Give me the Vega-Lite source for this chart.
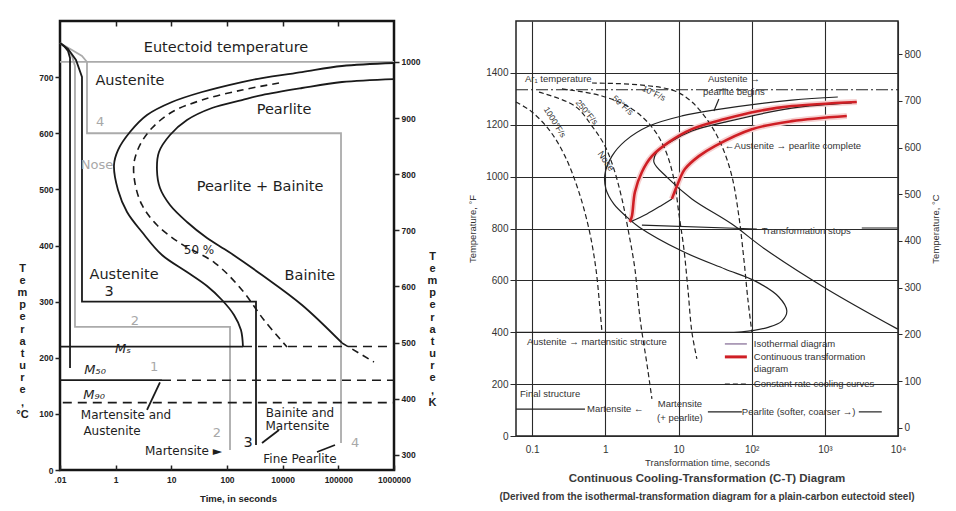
{
  "$schema": "https://vega.github.io/schema/vega-lite/v6.json",
  "padding": {"left": 14, "top": 17, "right": 4, "bottom": 4},
  "background": "white",
  "bounds": "flush",
  "spacing": 122,
  "config": {"font": "Liberation Sans", "axis": {"labelFont": "Liberation Sans", "titleFont": "Liberation Sans"}},
  "datasets": {
    "ttt_gray": [
      {"g": "eut", "o": 1, "x": 0, "T": 727}, {"g": "eut", "o": 2, "x": 6, "T": 727},
      {"g": "p2", "o": 1, "x": 0, "T": 760.8}, {"g": "p2", "o": 2, "x": 0.108, "T": 751.9}, {"g": "p2", "o": 3, "x": 0.216, "T": 737.6}, {"g": "p2", "o": 4, "x": 0.269, "T": 719.8}, {"g": "p2", "o": 5, "x": 0.269, "T": 255}, {"g": "p2", "o": 6, "x": 3.054, "T": 255}, {"g": "p2", "o": 7, "x": 3.054, "T": 35.6},
      {"g": "p4", "o": 1, "x": 0, "T": 760.8}, {"g": "p4", "o": 2, "x": 0.216, "T": 748.3}, {"g": "p4", "o": 3, "x": 0.395, "T": 737.6}, {"g": "p4", "o": 4, "x": 0.485, "T": 727}, {"g": "p4", "o": 5, "x": 0.485, "T": 600}, {"g": "p4", "o": 6, "x": 5.048, "T": 600}, {"g": "p4", "o": 7, "x": 5.048, "T": 48.1}
    ],
    "ttt_black": [
      {"g": "p1", "o": 1, "x": 0, "T": 760.8}, {"g": "p1", "o": 2, "x": 0.072, "T": 755.4}, {"g": "p1", "o": 3, "x": 0.144, "T": 746.5}, {"g": "p1", "o": 4, "x": 0.18, "T": 734.1}, {"g": "p1", "o": 5, "x": 0.18, "T": 181.7},
      {"g": "p3", "o": 1, "x": 0, "T": 760.8}, {"g": "p3", "o": 2, "x": 0.144, "T": 750.1}, {"g": "p3", "o": 3, "x": 0.287, "T": 730.5}, {"g": "p3", "o": 4, "x": 0.395, "T": 700.2}, {"g": "p3", "o": 5, "x": 0.395, "T": 300}, {"g": "p3", "o": 6, "x": 3.521, "T": 300}, {"g": "p3", "o": 7, "x": 3.521, "T": 44.5},
      {"g": "ms", "o": 1, "x": 0, "T": 220}, {"g": "ms", "o": 2, "x": 3.287, "T": 220},
      {"g": "m50", "o": 1, "x": 0, "T": 160}, {"g": "m50", "o": 2, "x": 1.832, "T": 160},
      {"g": "a1", "o": 1, "x": 1.563, "T": 107}, {"g": "a1", "o": 2, "x": 1.796, "T": 156},
      {"g": "a2", "o": 1, "x": 3.934, "T": 71.3}, {"g": "a2", "o": 2, "x": 3.629, "T": 48.1},
      {"g": "a3", "o": 1, "x": 4.617, "T": 32.1}, {"g": "a3", "o": 2, "x": 4.94, "T": 44.5}
    ],
    "ttt_curves": [
      {"g": "start", "o": 1, "x": 6.0, "T": 725.2}, {"g": "start", "o": 2, "x": 5.066, "T": 719.8}, {"g": "start", "o": 3, "x": 4.347, "T": 709.1}, {"g": "start", "o": 4, "x": 3.629, "T": 698.4}, {"g": "start", "o": 5, "x": 3.269, "T": 691.3}, {"g": "start", "o": 6, "x": 2.551, "T": 673.5}, {"g": "start", "o": 7, "x": 2.012, "T": 655.7}, {"g": "start", "o": 8, "x": 1.563, "T": 632.5}, {"g": "start", "o": 9, "x": 1.257, "T": 602.2}, {"g": "start", "o": 10, "x": 1.042, "T": 570.1}, {"g": "start", "o": 11, "x": 0.97, "T": 543.4}, {"g": "start", "o": 12, "x": 1.042, "T": 498.9}, {"g": "start", "o": 13, "x": 1.204, "T": 459.7}, {"g": "start", "o": 14, "x": 1.473, "T": 424.0}, {"g": "start", "o": 15, "x": 1.832, "T": 383.1}, {"g": "start", "o": 16, "x": 2.281, "T": 352.8}, {"g": "start", "o": 17, "x": 2.641, "T": 327.8}, {"g": "start", "o": 18, "x": 2.91, "T": 302.9}, {"g": "start", "o": 19, "x": 3.126, "T": 276.2}, {"g": "start", "o": 20, "x": 3.251, "T": 249.4}, {"g": "start", "o": 21, "x": 3.287, "T": 219.1},
      {"g": "fin", "o": 1, "x": 6.0, "T": 696.6}, {"g": "fin", "o": 2, "x": 5.066, "T": 691.3}, {"g": "fin", "o": 3, "x": 4.347, "T": 680.6}, {"g": "fin", "o": 4, "x": 3.629, "T": 668.1}, {"g": "fin", "o": 5, "x": 3.269, "T": 659.2}, {"g": "fin", "o": 6, "x": 2.73, "T": 645.0}, {"g": "fin", "o": 7, "x": 2.281, "T": 623.6}, {"g": "fin", "o": 8, "x": 1.976, "T": 596.9}, {"g": "fin", "o": 9, "x": 1.778, "T": 566.6}, {"g": "fin", "o": 10, "x": 1.742, "T": 534.5}, {"g": "fin", "o": 11, "x": 1.796, "T": 502.4}, {"g": "fin", "o": 12, "x": 1.976, "T": 472.2}, {"g": "fin", "o": 13, "x": 2.281, "T": 441.9}, {"g": "fin", "o": 14, "x": 2.641, "T": 413.4}, {"g": "fin", "o": 15, "x": 3.036, "T": 388.4}, {"g": "fin", "o": 16, "x": 3.629, "T": 347.4}, {"g": "fin", "o": 17, "x": 4.347, "T": 294.0}, {"g": "fin", "o": 18, "x": 5.066, "T": 226.3}
    ],
    "ttt_dcurves": [
      {"g": "half", "o": 1, "x": 3.934, "T": 689.5}, {"g": "half", "o": 2, "x": 3.269, "T": 677.0}, {"g": "half", "o": 3, "x": 2.551, "T": 659.2}, {"g": "half", "o": 4, "x": 2.012, "T": 637.8}, {"g": "half", "o": 5, "x": 1.653, "T": 609.3}, {"g": "half", "o": 6, "x": 1.437, "T": 579.1}, {"g": "half", "o": 7, "x": 1.329, "T": 547.0}, {"g": "half", "o": 8, "x": 1.347, "T": 511.3}, {"g": "half", "o": 9, "x": 1.473, "T": 472.2}, {"g": "half", "o": 10, "x": 1.742, "T": 436.5}, {"g": "half", "o": 11, "x": 2.156, "T": 404.4}, {"g": "half", "o": 12, "x": 2.784, "T": 368.8}, {"g": "half", "o": 13, "x": 3.269, "T": 320.7}, {"g": "half", "o": 14, "x": 3.664, "T": 267.3}, {"g": "half", "o": 15, "x": 4.078, "T": 219.1},
      {"g": "finext", "o": 1, "x": 5.066, "T": 226.3}, {"g": "finext", "o": 2, "x": 5.64, "T": 192.4}
    ],
    "ttt_dlines": [
      {"g": "msd", "o": 1, "x": 3.287, "T": 220}, {"g": "msd", "o": 2, "x": 6, "T": 220},
      {"g": "m50d", "o": 1, "x": 1.832, "T": 160}, {"g": "m50d", "o": 2, "x": 6, "T": 160},
      {"g": "m90", "o": 1, "x": 0.05, "T": 120}, {"g": "m90", "o": 2, "x": 6, "T": 120}
    ],
    "ttt_big": [
      {"s": "Eutectoid temperature", "x": 2.982, "T": 751.9},
      {"s": "Austenite", "x": 1.257, "T": 693},
      {"s": "Pearlite", "x": 4.024, "T": 641.4},
      {"s": "Pearlite + Bainite", "x": 3.593, "T": 504.2},
      {"s": "Austenite", "x": 1.15, "T": 347.4},
      {"s": "3", "x": 0.88, "T": 317},
      {"s": "Bainite", "x": 4.49, "T": 345.6},
      {"s": "3", "x": 3.377, "T": 48.1}
    ],
    "ttt_mid": [
      {"s": "Martensite and", "x": 1.186, "T": 98},
      {"s": "Austenite", "x": 0.934, "T": 69.5},
      {"s": "Bainite and", "x": 4.311, "T": 101.6},
      {"s": "Martensite", "x": 4.266, "T": 78.4},
      {"s": "Fine Pearlite", "x": 4.311, "T": 19.6},
      {"s": "Martensite ►", "x": 2.218, "T": 33.9},
      {"s": "50 %", "x": 2.497, "T": 392}
    ],
    "ttt_gray_text": [
      {"s": "Nose", "x": 0.665, "T": 543},
      {"s": "4", "x": 0.72, "T": 620},
      {"s": "2", "x": 1.347, "T": 265.5},
      {"s": "1", "x": 1.69, "T": 183.5},
      {"s": "2", "x": 2.82, "T": 65.9},
      {"s": "4", "x": 5.3, "T": 48.1}
    ],
    "ttt_m": [
      {"s": "Mₛ", "x": 1.132, "T": 215.6},
      {"s": "M₅₀", "x": 0.629, "T": 178},
      {"s": "M₉₀", "x": 0.611, "T": 133.6}
    ],
    "cct_iso": [
      {"g": "start", "o": 1, "t": 1504, "F": 1307}, {"g": "start", "o": 2, "t": 353.8, "F": 1295}, {"g": "start", "o": 3, "t": 31.39, "F": 1257}, {"g": "start", "o": 4, "t": 11.12, "F": 1234}, {"g": "start", "o": 5, "t": 3.937, "F": 1195}, {"g": "start", "o": 6, "t": 1.851, "F": 1137}, {"g": "start", "o": 7, "t": 1.229, "F": 1079}, {"g": "start", "o": 8, "t": 0.9863, "F": 1010}, {"g": "start", "o": 9, "t": 1.018, "F": 952}, {"g": "start", "o": 10, "t": 1.309, "F": 894}, {"g": "start", "o": 11, "t": 1.97, "F": 844}, {"g": "start", "o": 12, "t": 2.874, "F": 806}, {"g": "start", "o": 13, "t": 11.12, "F": 713}, {"g": "start", "o": 14, "t": 42.99, "F": 644}, {"g": "start", "o": 15, "t": 110.5, "F": 598}, {"g": "start", "o": 16, "t": 235.0, "F": 536}, {"g": "start", "o": 17, "t": 302.3, "F": 482}, {"g": "start", "o": 18, "t": 258.3, "F": 443}, {"g": "start", "o": 19, "t": 171.6, "F": 420}, {"g": "start", "o": 20, "t": 73.38, "F": 402}, {"g": "start", "o": 21, "t": 20.86, "F": 400}, {"g": "start", "o": 22, "t": 0.06, "F": 400},
      {"g": "fin", "o": 1, "t": 2336, "F": 1284}, {"g": "fin", "o": 2, "t": 353.8, "F": 1264}, {"g": "fin", "o": 3, "t": 42.99, "F": 1210}, {"g": "fin", "o": 4, "t": 15.22, "F": 1176}, {"g": "fin", "o": 5, "t": 7.621, "F": 1133}, {"g": "fin", "o": 6, "t": 5.064, "F": 1095}, {"g": "fin", "o": 7, "t": 4.607, "F": 1056}, {"g": "fin", "o": 8, "t": 6.934, "F": 998}, {"g": "fin", "o": 9, "t": 15.22, "F": 914}, {"g": "fin", "o": 10, "t": 53.58, "F": 817}, {"g": "fin", "o": 11, "t": 151.3, "F": 721}, {"g": "fin", "o": 12, "t": 1063, "F": 567}, {"g": "fin", "o": 13, "t": 9927, "F": 412},
      {"g": "stops", "o": 1, "t": 2.166, "F": 825}, {"g": "stops", "o": 2, "t": 3.697, "F": 856}, {"g": "stops", "o": 3, "t": 5.925, "F": 890}, {"g": "stops", "o": 4, "t": 8.115, "F": 914},
      {"g": "lead1", "o": 1, "t": 3.158, "F": 813}, {"g": "lead1", "o": 2, "t": 117.6, "F": 798},
      {"g": "lead2", "o": 1, "t": 3199, "F": 802}, {"g": "lead2", "o": 2, "t": 9927, "F": 802},
      {"g": "lead3", "o": 1, "t": 35.6, "F": 1299}, {"g": "lead3", "o": 2, "t": 30.42, "F": 1253},
      {"g": "final", "o": 1, "t": 0.06, "F": 104}, {"g": "final", "o": 2, "t": 0.5258, "F": 104},
      {"g": "pl1", "o": 1, "t": 25.19, "F": 93}, {"g": "pl1", "o": 2, "t": 73.38, "F": 93},
      {"g": "pl2", "o": 1, "t": 2911, "F": 93}, {"g": "pl2", "o": 2, "t": 5998, "F": 93}
    ],
    "cct_cool": [
      {"g": "c1000", "o": 1, "t": 0.06, "F": 1288}, {"g": "c1000", "o": 2, "t": 0.0993, "F": 1249}, {"g": "c1000", "o": 3, "t": 0.1749, "F": 1176}, {"g": "c1000", "o": 4, "t": 0.2803, "F": 1079}, {"g": "c1000", "o": 5, "t": 0.4218, "F": 952}, {"g": "c1000", "o": 6, "t": 0.5963, "F": 798}, {"g": "c1000", "o": 7, "t": 0.743, "F": 644}, {"g": "c1000", "o": 8, "t": 0.8426, "F": 490}, {"g": "c1000", "o": 9, "t": 0.8977, "F": 401},
      {"g": "c250", "o": 1, "t": 0.1237, "F": 1326}, {"g": "c250", "o": 2, "t": 0.3838, "F": 1272}, {"g": "c250", "o": 3, "t": 0.6555, "F": 1195}, {"g": "c250", "o": 4, "t": 0.9863, "F": 1118}, {"g": "c250", "o": 5, "t": 1.309, "F": 1029}, {"g": "c250", "o": 6, "t": 1.684, "F": 914}, {"g": "c250", "o": 7, "t": 2.098, "F": 779}, {"g": "c250", "o": 8, "t": 2.534, "F": 644}, {"g": "c250", "o": 9, "t": 2.874, "F": 490}, {"g": "c250", "o": 10, "t": 3.158, "F": 401}, {"g": "c250", "o": 11, "t": 3.697, "F": 278}, {"g": "c250", "o": 12, "t": 4.326, "F": 143},
      {"g": "c50", "o": 1, "t": 0.255, "F": 1338}, {"g": "c50", "o": 2, "t": 0.8977, "F": 1311}, {"g": "c50", "o": 3, "t": 2.307, "F": 1261}, {"g": "c50", "o": 4, "t": 4.326, "F": 1191}, {"g": "c50", "o": 5, "t": 6.512, "F": 1106}, {"g": "c50", "o": 6, "t": 8.644, "F": 991}, {"g": "c50", "o": 7, "t": 10.12, "F": 856}, {"g": "c50", "o": 8, "t": 11.84, "F": 721}, {"g": "c50", "o": 9, "t": 13.43, "F": 567}, {"g": "c50", "o": 10, "t": 15.22, "F": 401}, {"g": "c50", "o": 11, "t": 17.82, "F": 297},
      {"g": "c10", "o": 1, "t": 0.6555, "F": 1361}, {"g": "c10", "o": 2, "t": 3.158, "F": 1353}, {"g": "c10", "o": 3, "t": 8.92, "F": 1330}, {"g": "c10", "o": 4, "t": 15.22, "F": 1288}, {"g": "c10", "o": 5, "t": 25.99, "F": 1210}, {"g": "c10", "o": 6, "t": 39.12, "F": 1118}, {"g": "c10", "o": 7, "t": 53.58, "F": 1002}, {"g": "c10", "o": 8, "t": 66.76, "F": 848}, {"g": "c10", "o": 9, "t": 78.16, "F": 682}, {"g": "c10", "o": 10, "t": 88.6, "F": 528}, {"g": "c10", "o": 11, "t": 100.5, "F": 401}
    ],
    "cct_red": [
      {"g": "rs", "o": 1, "t": 2734, "F": 1288}, {"g": "rs", "o": 2, "t": 353.8, "F": 1272}, {"g": "rs", "o": 3, "t": 125.3, "F": 1253}, {"g": "rs", "o": 4, "t": 42.99, "F": 1222}, {"g": "rs", "o": 5, "t": 15.22, "F": 1183}, {"g": "rs", "o": 6, "t": 7.387, "F": 1133}, {"g": "rs", "o": 7, "t": 4.326, "F": 1079}, {"g": "rs", "o": 8, "t": 3.158, "F": 1018}, {"g": "rs", "o": 9, "t": 2.534, "F": 941}, {"g": "rs", "o": 10, "t": 2.307, "F": 848}, {"g": "rs", "o": 11, "t": 2.166, "F": 825},
      {"g": "rc", "o": 1, "t": 1996, "F": 1234}, {"g": "rc", "o": 2, "t": 353.8, "F": 1214}, {"g": "rc", "o": 3, "t": 100.5, "F": 1183}, {"g": "rc", "o": 4, "t": 31.39, "F": 1118}, {"g": "rc", "o": 5, "t": 18.97, "F": 1079}, {"g": "rc", "o": 6, "t": 12.22, "F": 1029}, {"g": "rc", "o": 7, "t": 9.499, "F": 964}, {"g": "rc", "o": 8, "t": 8.115, "F": 914}
    ],
    "cct_text_left": [
      {"s": "Ar₁ temperature", "t": 0.0797, "F": 1376},
      {"s": "←Austenite → pearlite complete", "t": 42.99, "F": 1118},
      {"s": "Transformation stops", "t": 137.7, "F": 790},
      {"s": "Austenite → martensitic structure", "t": 0.0848, "F": 362},
      {"s": "Final structure", "t": 0.0681, "F": 162},
      {"s": "Martensite ←", "t": 0.5601, "F": 104},
      {"s": "Pearlite (softer, coarser →)", "t": 73.38, "F": 93},
      {"s": "Isothermal diagram", "t": 107.1, "F": 355},
      {"s": "Continuous transformation", "t": 107.1, "F": 305},
      {"s": "diagram", "t": 107.1, "F": 258},
      {"s": "Constant rate cooling curves", "t": 107.1, "F": 200}
    ],
    "cct_text_center": [
      {"s": "Austenite →", "t": 57.06, "F": 1376},
      {"s": "pearlite begins", "t": 57.06, "F": 1326},
      {"s": "Martensite", "t": 10.44, "F": 123},
      {"s": "(+ pearlite)", "t": 10.44, "F": 69}
    ]
  },
  "hconcat": [
    {
      "width": 334,
      "height": 449,
      "view": {"stroke": "#151515", "strokeWidth": 2.5},
      "resolve": {"scale": {"y": "independent"}, "axis": {"x": "independent", "y": "independent"}},
      "layer": [
        {
          "encoding": {
            "x": {"field": "x", "type": "quantitative", "scale": {"domain": [0, 6], "nice": false, "zero": false},
              "axis": {"values": [0, 1, 2, 3, 4, 5, 6], "labelExpr": "['.01','1','10','100','10000','100000','1000000'][datum.value]", "tickSize": -5, "tickWidth": 1.5, "tickColor": "#222", "labelPadding": 10, "domain": false, "grid": false, "labelFlush": false, "labelOverlap": false, "labelFontWeight": "bold", "labelFontSize": 8.5, "labelColor": "#222", "title": "Time, in seconds", "titleFontSize": 9.5, "titleFontWeight": "bold", "titleColor": "#222", "titleX": 178, "titleY": 28, "titleAlign": "center", "titleBaseline": "middle"}},
            "y": {"field": "T", "type": "quantitative", "scale": {"domain": [0, 800], "nice": false, "zero": false},
              "axis": {"values": [0, 100, 200, 300, 400, 500, 600, 700], "format": "d", "tickSize": 5, "tickWidth": 1.5, "tickColor": "#222", "labelPadding": 2, "domain": false, "grid": false, "labelFontWeight": "bold", "labelFontSize": 8.5, "labelColor": "#222", "title": ["T", "e", "m", "p", "e", "r", "a", "t", "u", "r", "e", ",", "°C"], "titleAngle": 0, "titleAlign": "center", "titleBaseline": "middle", "titleX": -38, "titleY": 247, "titleLineHeight": 12.2, "titleFontSize": 11, "titleFontWeight": "bold", "titleColor": "#222"}}
          },
          "layer": [
            {"data": {"name": "ttt_gray"}, "mark": {"type": "line", "color": "#ababab", "strokeWidth": 1.8}, "encoding": {"detail": {"field": "g"}, "order": {"field": "o"}}},
            {"data": {"name": "ttt_black"}, "mark": {"type": "line", "color": "#1a1a1a", "strokeWidth": 1.8}, "encoding": {"detail": {"field": "g"}, "order": {"field": "o"}}},
            {"data": {"name": "ttt_curves"}, "mark": {"type": "line", "color": "#1a1a1a", "strokeWidth": 1.8, "interpolate": "catmull-rom"}, "encoding": {"detail": {"field": "g"}, "order": {"field": "o"}}},
            {"data": {"name": "ttt_dcurves"}, "mark": {"type": "line", "color": "#1a1a1a", "strokeWidth": 1.6, "strokeDash": [7, 5], "interpolate": "catmull-rom"}, "encoding": {"detail": {"field": "g"}, "order": {"field": "o"}}},
            {"data": {"name": "ttt_dlines"}, "mark": {"type": "line", "color": "#1a1a1a", "strokeWidth": 1.6, "strokeDash": [9, 6]}, "encoding": {"detail": {"field": "g"}, "order": {"field": "o"}}},
            {"data": {"name": "ttt_big"}, "mark": {"type": "text", "font": "DejaVu Sans", "fontSize": 14.5, "color": "#1e1e1e", "align": "center", "baseline": "middle"}, "encoding": {"text": {"field": "s"}}},
            {"data": {"name": "ttt_mid"}, "mark": {"type": "text", "font": "DejaVu Sans", "fontSize": 12, "color": "#1e1e1e", "align": "center", "baseline": "middle"}, "encoding": {"text": {"field": "s"}}},
            {"data": {"name": "ttt_gray_text"}, "mark": {"type": "text", "font": "DejaVu Sans", "fontSize": 13, "color": "#a8a8a8", "align": "center", "baseline": "middle"}, "encoding": {"text": {"field": "s"}}},
            {"data": {"name": "ttt_m"}, "mark": {"type": "text", "font": "DejaVu Sans", "fontSize": 13, "fontStyle": "italic", "color": "#1e1e1e", "align": "center", "baseline": "middle"}, "encoding": {"text": {"field": "s"}}}
          ]
        },
        {
          "data": {"values": [{"K": 273}, {"K": 1073}]},
          "mark": {"type": "point", "opacity": 0},
          "encoding": {
            "y": {"field": "K", "type": "quantitative", "scale": {"domain": [273, 1073], "nice": false, "zero": false},
              "axis": {"orient": "right", "values": [300, 400, 500, 600, 700, 800, 900, 1000], "format": "d", "tickSize": 5, "tickWidth": 1.5, "tickColor": "#222", "labelPadding": 2, "domain": false, "grid": false, "labelFontWeight": "bold", "labelFontSize": 8.5, "labelColor": "#222", "title": ["T", "e", "m", "p", "e", "r", "a", "t", "u", "r", "e", ",", "K"], "titleAngle": 0, "titleAlign": "center", "titleBaseline": "middle", "titleX": 38, "titleY": 235, "titleLineHeight": 12.2, "titleFontSize": 11, "titleFontWeight": "bold", "titleColor": "#222"}}
          }
        },
        {
          "data": {"values": [{"x": 0}, {"x": 6}]},
          "mark": {"type": "point", "opacity": 0},
          "encoding": {
            "x": {"field": "x", "type": "quantitative", "axis": {"orient": "top", "values": [1, 2, 3, 4, 5], "labels": false, "tickSize": -5, "tickWidth": 1.5, "tickColor": "#222", "domain": false, "grid": false, "title": null}}
          }
        }
      ]
    },
    {
      "width": 382,
      "height": 415,
      "view": {"stroke": "#222", "strokeWidth": 1.5},
      "title": {"text": "Continuous Cooling-Transformation (C-T) Diagram", "subtitle": "(Derived from the isothermal-transformation diagram for a plain-carbon eutectoid steel)", "orient": "bottom", "anchor": "middle", "fontSize": 11.5, "fontWeight": "bold", "color": "#3a3a3a", "subtitleFontSize": 10, "subtitleFontWeight": "bold", "subtitleColor": "#3a3a3a", "offset": 6, "subtitlePadding": 8},
      "resolve": {"scale": {"y": "independent"}, "axis": {"y": "independent"}},
      "layer": [
        {
          "encoding": {
            "x": {"field": "t", "type": "quantitative", "scale": {"type": "log", "domain": [0.06, 10000], "nice": false},
              "axis": {"values": [0.1, 1, 10, 100, 1000, 10000], "labelExpr": "datum.value < 0.5 ? '0.1' : datum.value < 5 ? '1' : datum.value < 50 ? '10' : datum.value < 500 ? '10²' : datum.value < 5000 ? '10³' : '10⁴'", "grid": true, "gridColor": "#2a2a2a", "gridWidth": 1.1, "ticks": false, "labelPadding": 8, "domain": false, "labelFlush": false, "labelOverlap": false, "labelFontSize": 10, "labelColor": "#333", "title": "Transformation time, seconds", "titleFontSize": 9.5, "titleFontWeight": "normal", "titleColor": "#333", "titlePadding": 3}},
            "y": {"field": "F", "type": "quantitative", "scale": {"domain": [0, 1600], "nice": false, "zero": false},
              "axis": {"values": [0, 200, 400, 600, 800, 1000, 1200, 1400], "format": "d", "grid": true, "gridColor": "#2a2a2a", "gridWidth": 1.1, "tickSize": 6, "tickColor": "#2a2a2a", "labelPadding": 2, "domain": false, "labelFontSize": 10, "labelColor": "#333", "title": "Temperature, °F", "titleFontSize": 9.5, "titleFontWeight": "normal", "titleColor": "#333", "titlePadding": 8}}
          },
          "layer": [
            {"data": {"name": "cct_red"}, "mark": {"type": "line", "color": "#f6d0d0", "strokeWidth": 6, "interpolate": "catmull-rom"}, "encoding": {"detail": {"field": "g"}, "order": {"field": "o"}}},
            {"data": {"name": "cct_iso"}, "mark": {"type": "line", "color": "#222", "strokeWidth": 1.2, "interpolate": "catmull-rom"}, "encoding": {"detail": {"field": "g"}, "order": {"field": "o"}}},
            {"data": {"name": "cct_cool"}, "mark": {"type": "line", "color": "#222", "strokeWidth": 1.2, "strokeDash": [5, 3], "interpolate": "catmull-rom"}, "encoding": {"detail": {"field": "g"}, "order": {"field": "o"}}},
            {"data": {"name": "cct_red"}, "mark": {"type": "line", "color": "#cf1f25", "strokeWidth": 2.6, "interpolate": "catmull-rom"}, "encoding": {"detail": {"field": "g"}, "order": {"field": "o"}}},
            {"data": {"values": [{"t": 0.06, "F": 1335}, {"t": 10000, "F": 1335}]}, "mark": {"type": "line", "color": "#222", "strokeWidth": 1.2, "strokeDash": [12, 3, 2, 3]}, "encoding": {}},
            {"data": {"values": [{"t": 42.99, "F": 355}, {"t": 85.9, "F": 355}]}, "mark": {"type": "line", "color": "#9a86a8", "strokeWidth": 1.5}, "encoding": {}},
            {"data": {"values": [{"t": 42.99, "F": 305}, {"t": 85.9, "F": 305}]}, "mark": {"type": "line", "color": "#cf1f25", "strokeWidth": 3}, "encoding": {}},
            {"data": {"values": [{"t": 42.99, "F": 200}, {"t": 85.9, "F": 200}]}, "mark": {"type": "line", "color": "#222", "strokeWidth": 1.2, "strokeDash": [5, 3]}, "encoding": {}},
            {"data": {"name": "cct_text_left"}, "mark": {"type": "text", "fontSize": 9.5, "color": "#333", "align": "left", "baseline": "middle"}, "encoding": {"text": {"field": "s"}}},
            {"data": {"name": "cct_text_center"}, "mark": {"type": "text", "fontSize": 9.5, "color": "#333", "align": "center", "baseline": "middle"}, "encoding": {"text": {"field": "s"}}},
            {"data": {"values": [{"s": "1000°F/s", "t": 0.2046, "F": 1210}]}, "mark": {"type": "text", "fontSize": 8.5, "color": "#333", "angle": 58, "align": "center", "baseline": "middle"}, "encoding": {"text": {"field": "s"}}},
            {"data": {"values": [{"s": "250°F/s", "t": 0.5601, "F": 1249}]}, "mark": {"type": "text", "fontSize": 8.5, "color": "#333", "angle": 50, "align": "center", "baseline": "middle"}, "encoding": {"text": {"field": "s"}}},
            {"data": {"values": [{"s": "50°F/s", "t": 1.738, "F": 1276}]}, "mark": {"type": "text", "fontSize": 8.5, "color": "#333", "angle": 42, "align": "center", "baseline": "middle"}, "encoding": {"text": {"field": "s"}}},
            {"data": {"values": [{"s": "10°F/s", "t": 4.607, "F": 1322}]}, "mark": {"type": "text", "fontSize": 8.5, "color": "#333", "angle": 25, "align": "center", "baseline": "middle"}, "encoding": {"text": {"field": "s"}}},
            {"data": {"values": [{"s": "Nose", "t": 1.018, "F": 1060}]}, "mark": {"type": "text", "fontSize": 9.5, "color": "#333", "angle": 55, "align": "center", "baseline": "middle"}, "encoding": {"text": {"field": "s"}}}
          ]
        },
        {
          "data": {"values": [{"C": 0}, {"C": 800}]},
          "mark": {"type": "point", "opacity": 0},
          "encoding": {
            "y": {"field": "C", "type": "quantitative", "scale": {"domain": [-17.78, 871.11], "nice": false, "zero": false},
              "axis": {"orient": "right", "values": [0, 100, 200, 300, 400, 500, 600, 700, 800], "format": "d", "tickSize": 4, "tickColor": "#2a2a2a", "labelPadding": 2, "domain": false, "grid": false, "labelFontSize": 10, "labelColor": "#333", "title": "Temperature, °C", "titleAngle": 270, "titleFontSize": 9.5, "titleFontWeight": "normal", "titleColor": "#333", "titlePadding": 20}}
          }
        }
      ]
    }
  ]
}
